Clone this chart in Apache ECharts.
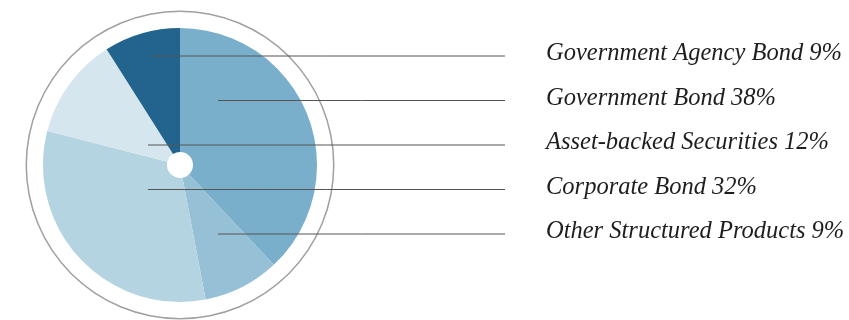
<!DOCTYPE html>
<html>
<head>
<meta charset="utf-8">
<script src="https://cdn.jsdelivr.net/npm/echarts@6/dist/echarts.min.js"></script>
<style>
html,body{margin:0;padding:0;background:#fff;}
#chart{width:849px;height:320px;}
</style>
</head>
<body>
<div id="chart"></div>
<script>
// Data (clockwise from 12 o'clock)
var categories = ['Government Bond', 'Other Structured Products', 'Corporate Bond', 'Asset-backed Securities', 'Government Agency Bond'];
var values = [38, 9, 32, 12, 9];
var colors = ['#7aafcb', '#95c0d5', '#b4d4e1', '#d5e6ee', '#23648e'];

// Label layout (annotation placement): row order from top and leader start offsets
var labelRow = { 'Government Agency Bond': 0, 'Government Bond': 1, 'Asset-backed Securities': 2, 'Corporate Bond': 3, 'Other Structured Products': 4 };
var leaderStartDx = { 'Government Agency Bond': -32, 'Government Bond': 38, 'Asset-backed Securities': -32, 'Corporate Bond': -32, 'Other Structured Products': 38 };

var CX = 180, CY = 165;
var rowTop = 56, rowGap = 44.5, lineEndX = 505, textX = 546;

var chart = echarts.init(document.getElementById('chart'), null, {renderer: 'canvas'});
var pieData = categories.map(function (c, i) {
  return { name: c, value: values[i], itemStyle: { color: colors[i] } };
});
var overlayData = categories.map(function (c, i) {
  return { name: c, value: values[i] };
});

chart.setOption({
  animation: false,
  series: [
    {
      type: 'pie',
      silent: true,
      center: [CX, CY],
      radius: [153, 154.5],
      label: { show: false },
      labelLine: { show: false },
      itemStyle: { color: '#a0a0a0' },
      data: [{ value: 1, name: 'ring' }]
    },
    {
      type: 'pie',
      z: 2,
      center: [CX, CY],
      radius: [13, 137],
      startAngle: 90,
      clockwise: true,
      itemStyle: { borderWidth: 0 },
      label: { show: false },
      labelLine: { show: false },
      data: pieData
    },
    {
      type: 'pie',
      z: 10,
      silent: true,
      center: [CX, CY],
      radius: [13, 137],
      startAngle: 90,
      clockwise: true,
      avoidLabelOverlap: false,
      itemStyle: { color: 'rgba(0,0,0,0)', borderWidth: 0 },
      label: {
        show: true,
        position: 'outside',
        formatter: function (p) { return p.name + ' ' + p.value + '%'; },
        fontFamily: '"Liberation Serif", "Times New Roman", serif',
        fontStyle: 'italic',
        fontSize: 24.5,
        color: '#1e1e1e'
      },
      labelLine: {
        show: true,
        lineStyle: { color: '#555555', width: 1 }
      },
      labelLayout: function (params) {
        var name = categories[params.dataIndex];
        var y = rowTop + labelRow[name] * rowGap;
        var x0 = CX + leaderStartDx[name];
        return {
          x: textX,
          y: y - 2,
          align: 'left',
          verticalAlign: 'middle',
          labelLinePoints: [[x0, y], [(x0 + lineEndX) / 2, y], [lineEndX, y]]
        };
      },
      data: overlayData
    }
  ]
});
</script>
</body>
</html>
